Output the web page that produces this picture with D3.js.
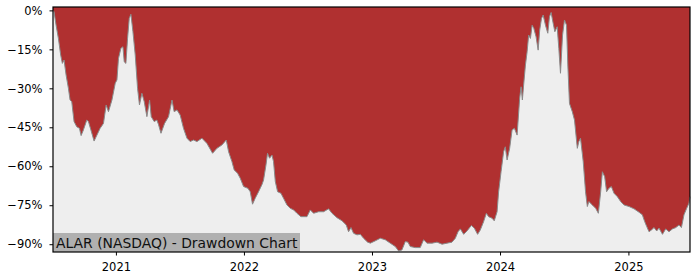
<!DOCTYPE html>
<html>
<head>
<meta charset="utf-8">
<script src="https://cdn.jsdelivr.net/npm/d3@7"></script>
<style>
  body { margin: 0; background: #fff; }
  #chart { width: 700px; height: 280px; }
  .axis text { font-family: "DejaVu Sans", sans-serif; font-size: 11.5px; fill: #000; }
  .axis path, .axis line { stroke: #000; }
</style>
</head>
<body>
<div id="chart"></div>
<script>
// drawdown series, dates as decimal years
const dates = [
  2020.510, 2020.518, 2020.534, 2020.552, 2020.570, 2020.583, 2020.596, 2020.612, 2020.630, 2020.643,
  2020.656, 2020.674, 2020.695, 2020.716, 2020.729, 2020.747, 2020.773, 2020.786, 2020.805, 2020.830,
  2020.852, 2020.877, 2020.903, 2020.924, 2020.942, 2020.969, 2020.995, 2021.008, 2021.020, 2021.039,
  2021.055, 2021.065, 2021.078, 2021.091, 2021.104, 2021.117, 2021.133, 2021.151, 2021.169, 2021.184,
  2021.203, 2021.221, 2021.242, 2021.263, 2021.276, 2021.299, 2021.320, 2021.333, 2021.352, 2021.380,
  2021.411, 2021.438, 2021.455, 2021.477, 2021.502, 2021.528, 2021.555, 2021.580, 2021.606, 2021.633,
  2021.672, 2021.711, 2021.755, 2021.789, 2021.828, 2021.862, 2021.880, 2021.906, 2021.924, 2021.950,
  2021.971, 2021.997, 2022.031, 2022.049, 2022.067, 2022.088, 2022.114, 2022.141, 2022.153, 2022.172,
  2022.184, 2022.200, 2022.219, 2022.231, 2022.245, 2022.263, 2022.289, 2022.309, 2022.336, 2022.362,
  2022.388, 2022.414, 2022.445, 2022.492, 2022.518, 2022.544, 2022.583, 2022.622, 2022.661, 2022.688,
  2022.727, 2022.766, 2022.799, 2022.817, 2022.836, 2022.856, 2022.883, 2022.909, 2022.934, 2022.966,
  2022.987, 2023.026, 2023.065, 2023.104, 2023.143, 2023.182, 2023.208, 2023.234, 2023.260, 2023.281,
  2023.299, 2023.338, 2023.377, 2023.403, 2023.430, 2023.469, 2023.508, 2023.547, 2023.586, 2023.625,
  2023.651, 2023.672, 2023.690, 2023.716, 2023.742, 2023.776, 2023.799, 2023.825, 2023.846, 2023.872,
  2023.893, 2023.911, 2023.938, 2023.955, 2023.977, 2023.989, 2024.008, 2024.028, 2024.041, 2024.055,
  2024.075, 2024.094, 2024.112, 2024.133, 2024.153, 2024.164, 2024.174, 2024.184, 2024.198, 2024.211,
  2024.223, 2024.237, 2024.250, 2024.263, 2024.281, 2024.297, 2024.309, 2024.323, 2024.336, 2024.354,
  2024.372, 2024.385, 2024.398, 2024.414, 2024.427, 2024.445, 2024.458, 2024.471, 2024.487, 2024.502,
  2024.518, 2024.528, 2024.541, 2024.563, 2024.580, 2024.602, 2024.614, 2024.627, 2024.648, 2024.666,
  2024.680, 2024.692, 2024.719, 2024.745, 2024.766, 2024.784, 2024.797, 2024.815, 2024.830, 2024.848,
  2024.867, 2024.888, 2024.914, 2024.940, 2024.966, 2025.005, 2025.044, 2025.083, 2025.109, 2025.127,
  2025.143, 2025.161, 2025.180, 2025.200, 2025.221, 2025.239, 2025.266, 2025.291, 2025.317, 2025.344,
  2025.370, 2025.395, 2025.414, 2025.434, 2025.455, 2025.473, 2025.481
]
const drawdown = [
  0, -0.5, -5.7, -10.8, -17.2, -20.4, -19.1, -24.9, -30, -34.5,
  -35.1, -42.8, -44.8, -45.4, -48.2, -46, -42.2, -42.8, -46, -50.3,
  -48, -45.4, -43.5, -36.4, -39, -34.5, -28, -26.8, -18.5, -14.6,
  -14, -19.8, -20.4, -10.8, -3.1, -1.5, -8.2, -17.2, -30, -36.4,
  -31.9, -35.1, -40.9, -34.5, -40.9, -42.8, -42.2, -44, -47.3, -43.5,
  -40.9, -34.5, -39, -38.3, -40.3, -45.4, -49.2, -50.5, -49.9, -50.5,
  -49.2, -51.2, -55, -53.1, -51.8, -49.9, -54.4, -58.2, -61.4, -62.7,
  -64.6, -67.8, -68.5, -69.8, -74.6, -72.3, -69.8, -67, -65.3, -59.5,
  -55, -56.9, -55.7, -58.2, -65.9, -69.8, -70.4, -72.3, -74.9, -76.2,
  -76.8, -78.1, -79.4, -79.4, -76.8, -78.1, -77.5, -77.5, -76.4, -78.1,
  -79.8, -81, -82.6, -85.2, -83.6, -85.8, -86.4, -86.2, -87.7, -89.2,
  -89.6, -88.7, -87.7, -88.3, -89.6, -90.9, -92.6, -92.2, -89, -89.2,
  -90.9, -91.3, -91.3, -88.3, -89.6, -89.6, -89.2, -90, -89.6, -89.2,
  -87.7, -85.2, -84.1, -86.2, -84.9, -82.8, -83.8, -86.2, -84.5, -81.3,
  -78.1, -79.4, -80, -81, -77.5, -69.8, -62.1, -54.4, -52.5, -57.6,
  -53.1, -46, -45.4, -48, -33.8, -29.4, -34.5, -28.7, -21, -15.9,
  -9.5, -10.8, -5.7, -6.9, -10.2, -15.3, -7.6, -3.1, -1.8, -5.7,
  -8.8, -2.5, -0.8, -5, -8.2, -6.3, -14.6, -24.2, -9.5, -3.7,
  -5.7, -21, -35.8, -39, -42.2, -53.1, -50.5, -49.2, -58.2, -69.8,
  -75.5, -73.6, -74.9, -76.2, -78.1, -69.8, -62.1, -64, -69.8, -68.5,
  -67.8, -70.4, -71.7, -73.6, -74.9, -75.5, -76.4, -77.7, -78.7, -81.3,
  -83.2, -85.2, -84.5, -83.6, -84.9, -83.8, -86.2, -84.1, -85.2, -84.1,
  -83.6, -82.6, -83.6, -78.7, -76.2, -74.2, -71.7
]
const yTicks = [0, -15, -30, -45, -60, -75, -90]
const yDomain = [-93, 1.3]
const title = 'ALAR (NASDAQ) - Drawdown Chart'

const toDate = (t) => {
	const yr = Math.floor(t)
	const start = new Date(yr, 0, 1), end = new Date(yr + 1, 0, 1)
	return new Date(+start + (t - yr) * (end - start))
}
const data = dates.map((t, i) => ({ date: toDate(t), dd: drawdown[i] }))

const W = 700, H = 280
const margin = { top: 7, right: 10, bottom: 28, left: 53 }
const width = W - margin.left - margin.right
const height = H - margin.top - margin.bottom

const svg = d3.select('#chart').append('svg')
	.attr('width', W)
	.attr('height', H)

const g = svg.append('g')
	.attr('transform', `translate(${margin.left},${margin.top})`)

const x = d3.scaleTime().domain(d3.extent(data, d => d.date)).range([0, width])
const y = d3.scaleLinear().domain(yDomain).range([height, 0])

// axes background
g.append('rect')
	.attr('width', width)
	.attr('height', height)
	.attr('fill', '#eeeeee')

// red area from the top of the plot down to the drawdown
g.append('path')
	.datum(data)
	.attr('fill', '#b03030')
	.attr('d', d3.area()
		.x(d => x(d.date))
		.y0(0)
		.y1(d => y(d.dd)))

g.append('path')
	.datum(data)
	.attr('fill', 'none')
	.attr('stroke', '#8a8a8a')
	.attr('stroke-width', 1)
	.attr('d', d3.line()
		.x(d => x(d.date))
		.y(d => y(d.dd)))

// title box in the lower left corner
const label = g.append('g')
label.append('rect')
	.attr('x', 0)
	.attr('y', height - 19)
	.attr('width', 247)
	.attr('height', 19)
	.attr('fill', '#b0b0b0')
label.append('text')
	.attr('x', 3)
	.attr('y', height - 4.5)
	.attr('font-family', '"DejaVu Sans", sans-serif')
	.attr('font-size', 13.9)
	.attr('fill', '#111')
	.text(title)

// frame
g.append('rect')
	.attr('width', width)
	.attr('height', height)
	.attr('fill', 'none')
	.attr('stroke', '#000')
	.attr('stroke-width', 1.2)

g.append('g')
	.attr('class', 'axis axis--y')
	.call(d3.axisLeft(y)
		.tickValues(yTicks)
		.tickSize(3.5)
		.tickPadding(7)
		.tickFormat(d => d3.format('.0f')(d) + '%'))
	.call(a => a.select('.domain').remove())

g.append('g')
	.attr('class', 'axis axis--x')
	.attr('transform', `translate(0,${height})`)
	.call(d3.axisBottom(x)
		.ticks(d3.timeYear.every(1))
		.tickSize(3.5)
		.tickPadding(7)
		.tickFormat(d3.timeFormat('%Y')))
	.call(a => a.select('.domain').remove())
</script>
</body>
</html>
